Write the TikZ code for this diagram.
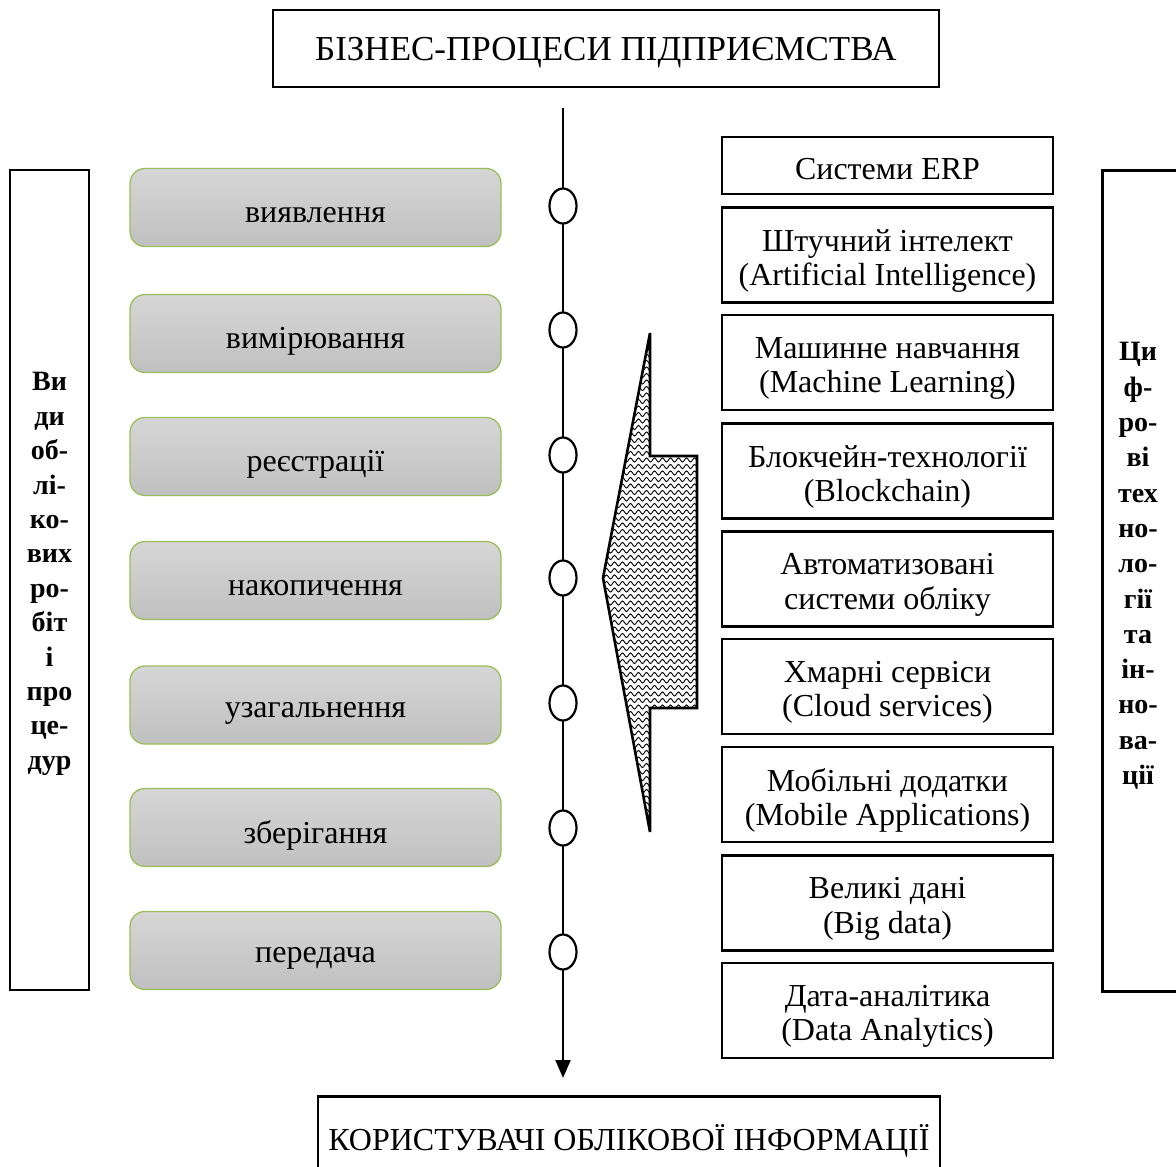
\documentclass[tikz,border=0pt]{standalone}
\usepackage{fontspec}
\setmainfont{Liberation Serif}
\usetikzlibrary{arrows.meta,shapes.geometric,decorations.pathmorphing}
\begin{document}
\begin{tikzpicture}[x=1pt,y=-1pt,
  txt/.style={font=\fontsize{32}{34.5}\selectfont, align=center, inner sep=0pt},
  plainbox/.style={draw=black, line width=2.6pt, rectangle, inner sep=0pt},
  techbox/.style={draw=black, line width=2.4pt, rectangle, inner sep=0pt,
     minimum width=331pt},
  stagebox/.style={draw={rgb,255:red,155;green,190;blue,90}, line width=1.3pt,
     rounded corners=15pt, top color={rgb,255:red,214;green,214;blue,214},
     bottom color={rgb,255:red,192;green,192;blue,192},
     minimum width=371pt, minimum height=78pt, inner sep=0pt},
  sidebox/.style={draw=black, line width=2.6pt, rectangle, inner sep=0pt},
  sidetxt/.style={inner sep=0pt, font=\fontsize{28}{34.4}\selectfont\bfseries, align=center},
  knot/.style={ellipse, draw=black, line width=2.2pt, fill=white,
     minimum width=27pt, minimum height=35pt, inner sep=0pt},
  flow/.style={line width=2.2pt, -{Triangle[width=15pt,length=18pt]}}
]
\clip (0,0) rectangle (1176,1167);
\fill[white] (0,0) rectangle (1176,1167);

% top and bottom boxes
\node[plainbox, minimum width=666pt, minimum height=77pt] (top) at (606,48.5) {};
\node[txt, font=\fontsize{35}{40}\selectfont] (toptxt) at (606,53) {БІЗНЕС-ПРОЦЕСИ ПІДПРИЄМСТВА};
\node[plainbox, minimum width=622pt, minimum height=90pt, anchor=north] (bottom) at (629,1095) {};
\node[txt] (bottomtxt) at (629,1141) {КОРИСТУВАЧІ ОБЛІКОВОЇ ІНФОРМАЦІЇ};

% side boxes
\node[sidebox, minimum width=79pt, minimum height=820pt] (left) at (49.5,580) {};
\node[sidetxt] (lefttxt) at (49.5,574) {Ви\\ди\\об-\\лі-\\ко-\\вих\\ро-\\біт\\і\\про\\це-\\дур};
\node[sidebox, minimum width=120pt, minimum height=821pt, anchor=north west] (right) at (1101,169) {};
\node[sidetxt, font=\fontsize{28}{35.3}\selectfont\bfseries] (righttxt) at (1138,566) {Ци\\ф-\\ро-\\ві\\тех\\но-\\ло-\\гії\\та\\ін-\\но-\\ва-\\ції};

% main flow line
\coordinate (ls) at (563,108);
\coordinate (le) at (563,1078);
\draw[flow] (ls) -- (le);

% stage boxes and knots
\foreach \n/\y/\cy/\t in {1/207.5/206/виявлення, 2/333.5/330/вимірювання, 3/456.5/455/реєстрації,
   4/580.5/578/накопичення, 5/705/703/узагальнення, 6/827.5/828/зберігання, 7/950.5/952/передача}{
  \node[stagebox] (s\n) at (315.5,\y) {};
  \node[txt] (st\n) at (315.5,\y+8) {\t};
  \node[knot] (k\n) at (563,\cy) {};
}

% technology boxes
\node[techbox, minimum height=57pt] (t1) at (887.5,165.5) {};
\node[txt] (tt1) at (887.5,169) {Системи ERP};
\foreach \n/\y/\t in {2/255/{Штучний інтелект\\(Artificial Intelligence)},
   3/362.5/{Машинне навчання\\(Machine Learning)},
   4/471/{Блокчейн-технології\\(Blockchain)},
   5/579/{Автоматизовані\\системи обліку},
   6/686.5/{Хмарні сервіси\\(Cloud services)},
   7/794.5/{Мобільні додатки\\(Mobile Applications)},
   8/903/{Великі дані\\(Big data)},
   9/1010.5/{Дата-аналітика\\(Data Analytics)}}{
  \node[techbox, minimum height=95pt] (t\n) at (887.5,\y) {};
  \node[txt] (tt\n) at (887.5,\y+6) {\t};
}

% big wavy arrow
\begin{scope}
  \clip (650,333) -- (650,456) -- (697,456) -- (697,708) -- (650,708) -- (650,832) -- (603,578) -- cycle;
  \foreach \yy in {330,336.5,...,840}{
    \draw[line width=0.9pt, decorate, decoration={snake, segment length=8pt, amplitude=2pt}] (596,\yy) -- (704,\yy);
  }
\end{scope}
\draw[line width=2.6pt, line join=miter] (650,333) -- (650,456) -- (697,456) -- (697,708) -- (650,708) -- (650,832) -- (603,578) -- cycle;
\end{tikzpicture}
\end{document}
